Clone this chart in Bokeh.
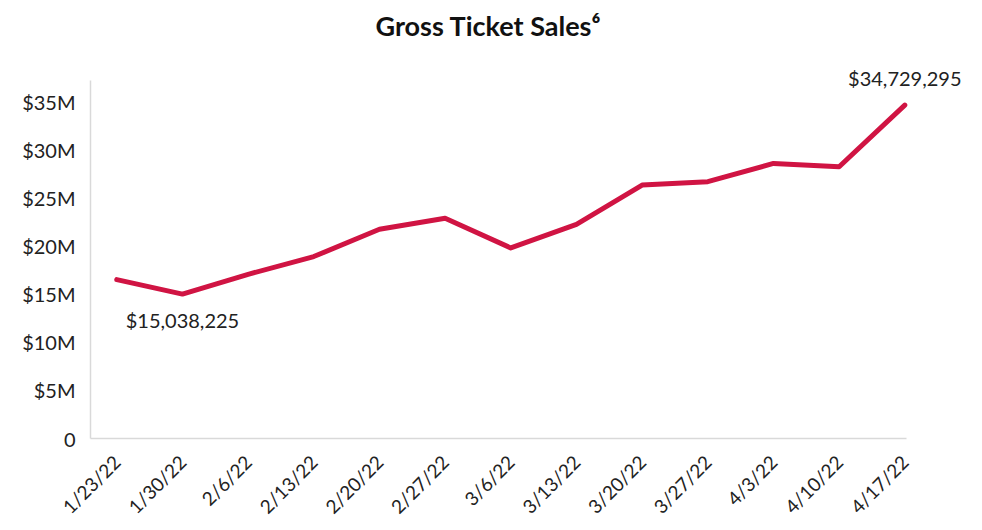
import math
from bokeh.plotting import figure
from bokeh.models import FixedTicker, Range1d, Label
from bokeh.embed import file_html
from bokeh.resources import INLINE

dates = ["1/23/22", "1/30/22", "2/6/22", "2/13/22", "2/20/22", "2/27/22", "3/6/22",
         "3/13/22", "3/20/22", "3/27/22", "4/3/22", "4/10/22", "4/17/22"]
sales = [16550000, 15038225, 17100000, 18950000, 21800000, 22950000, 19850000,
         22300000, 26400000, 26750000, 28650000, 28300000, 34729295]
y_ticks = [0, 5000000, 10000000, 15000000, 20000000, 25000000, 30000000, 35000000]
y_tick_labels = ["0", "$5M", "$10M", "$15M", "$20M", "$25M", "$30M", "$35M"]
annotated = [1, 12]

FONT = "Lato"
RED = "#d01443"

x = list(range(len(dates)))

p = figure(width=982, height=530, output_backend="svg", toolbar_location=None,
           x_range=Range1d(-0.4, 13.107), y_range=Range1d(0, 40830000),
           min_border_left=90, min_border_right=5, min_border_bottom=92,
           min_border_top=46)
p.title.text = "Gross Ticket Sales\u2076"
p.title.text_font = FONT
p.title.text_font_size = "27px"
p.title.text_font_style = "bold"
p.title.align = "left"
p.title.offset = 285
p.title.text_color = "#111111"

p.line(x, sales, line_color=RED, line_width=5, line_join="round", line_cap="round")

for i in annotated:
    txt = "${:,}".format(sales[i])
    if i == len(dates) - 1:
        lab = Label(x=x[i], y=sales[i], text=txt, text_align="center",
                    text_baseline="bottom", y_offset=15)
    else:
        lab = Label(x=x[i], y=sales[i], text=txt, text_align="center",
                    text_baseline="top", y_offset=-14)
    lab.text_font = FONT
    lab.text_font_size = "20px"
    lab.text_color = "#222222"
    p.add_layout(lab)

p.xgrid.visible = False
p.ygrid.visible = False
p.outline_line_color = None

p.xaxis.ticker = FixedTicker(ticks=x)
p.xaxis.major_label_overrides = {i: d for i, d in zip(x, dates)}
p.xaxis.major_label_orientation = math.pi / 4
p.xaxis.bounds = (-0.4, 12.02)
p.xaxis.major_label_text_line_height = 1.0
p.yaxis.ticker = FixedTicker(ticks=y_ticks)
p.yaxis.major_label_overrides = {t: l for t, l in zip(y_ticks, y_tick_labels)}
p.yaxis.bounds = (0, 37300000)

for ax in (p.xaxis[0], p.yaxis[0]):
    ax.axis_line_color = "#d9d9d9"
    ax.axis_line_width = 1.5
    ax.major_tick_line_color = None
    ax.minor_tick_line_color = None
    ax.major_label_text_font = FONT
    ax.major_label_text_font_size = "20px"
    ax.major_label_text_color = "#222222"
p.xaxis.major_label_text_font_size = "19px"
p.yaxis.major_label_standoff = 9
p.xaxis.major_label_standoff = 14

open("out.html", "w").write(file_html(p, INLINE))
